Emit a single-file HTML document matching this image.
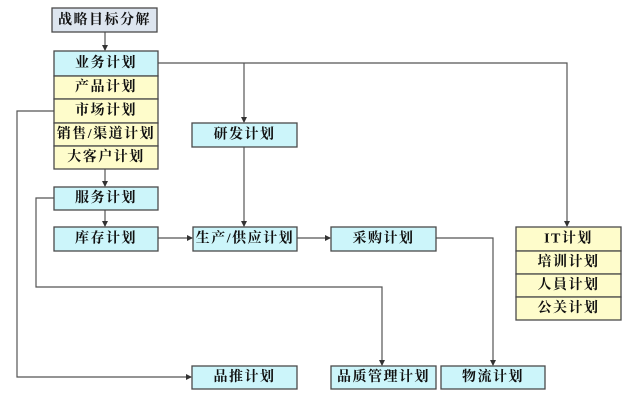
<!DOCTYPE html>
<html><head><meta charset="utf-8"><style>
html,body{margin:0;padding:0;background:#fff;}
svg{display:block;}
text{font-family:"Liberation Serif","Noto Serif CJK SC",serif;font-size:14px;font-weight:bold;fill:#111;text-anchor:middle;dominant-baseline:central;letter-spacing:1.5px;}
.b{stroke:#4a4a4a;stroke-width:1.3;}
.c{fill:#ccf5fa;}
.y{fill:#fefccb;}
.g{fill:#dde5ef;}
.l{fill:none;stroke:#555;stroke-width:1.2;}
</style></head><body>
<svg width="640" height="403" viewBox="0 0 640 403" xmlns="http://www.w3.org/2000/svg">
<defs><marker id="a" markerWidth="6" markerHeight="6" refX="5" refY="3" orient="auto" markerUnits="userSpaceOnUse"><path d="M0,0 L6,3 L0,6 z" fill="#333"/></marker></defs>
<path class="l" d="M105,32 V50" marker-end="url(#a)"/>
<path class="l" d="M105,169 V186" marker-end="url(#a)"/>
<path class="l" d="M105,210 V226" marker-end="url(#a)"/>
<path class="l" d="M158,63 H567 V226" marker-end="url(#a)"/>
<path class="l" d="M244,63 V122" marker-end="url(#a)"/>
<path class="l" d="M244,147 V226" marker-end="url(#a)"/>
<path class="l" d="M158,238 H192" marker-end="url(#a)"/>
<path class="l" d="M297,238 H330" marker-end="url(#a)"/>
<path class="l" d="M436,238 H493 V365" marker-end="url(#a)"/>
<path class="l" d="M54,198 H36 V287 H382 V365" marker-end="url(#a)"/>
<path class="l" d="M54,111 H17 V377 H191" marker-end="url(#a)"/>
<rect class="b g" x="52" y="8" width="105" height="24"/><text x="104.5" y="20.5">战略目标分解</text>
<rect class="b c" x="54" y="51" width="104" height="25"/><text x="106" y="63.5">业务计划</text>
<rect class="b y" x="54" y="76" width="104" height="23"/><text x="106" y="87.5">产品计划</text>
<rect class="b y" x="54" y="99" width="104" height="24"/><text x="106" y="111">市场计划</text>
<rect class="b y" x="54" y="123" width="104" height="23"/><text x="106" y="134.5">销售/渠道计划</text>
<rect class="b y" x="54" y="146" width="104" height="23"/><text x="106" y="157.5">大客户计划</text>
<rect class="b c" x="54" y="187" width="104" height="23"/><text x="106" y="198.5">服务计划</text>
<rect class="b c" x="54" y="227" width="104" height="24"/><text x="106" y="239">库存计划</text>
<rect class="b c" x="192" y="123" width="105" height="24"/><text x="244.5" y="135">研发计划</text>
<rect class="b c" x="193" y="227" width="104" height="24"/><text x="245" y="239">生产/供应计划</text>
<rect class="b c" x="331" y="227" width="105" height="24"/><text x="383.5" y="239">采购计划</text>
<rect class="b y" x="516" y="227" width="105" height="24"/><text x="568.5" y="239">IT计划</text>
<rect class="b y" x="516" y="251" width="105" height="23"/><text x="568.5" y="262.5">培训计划</text>
<rect class="b y" x="516" y="274" width="105" height="23"/><text x="568.5" y="285.5">人員计划</text>
<rect class="b y" x="516" y="297" width="105" height="23"/><text x="568.5" y="308.5">公关计划</text>
<rect class="b c" x="192" y="366" width="105" height="23"/><text x="244.5" y="377.5">品推计划</text>
<rect class="b c" x="331" y="366" width="105" height="23"/><text x="383.5" y="377.5">品质管理计划</text>
<rect class="b c" x="441" y="366" width="104" height="23"/><text x="493" y="377.5">物流计划</text>
</svg>
</body></html>
